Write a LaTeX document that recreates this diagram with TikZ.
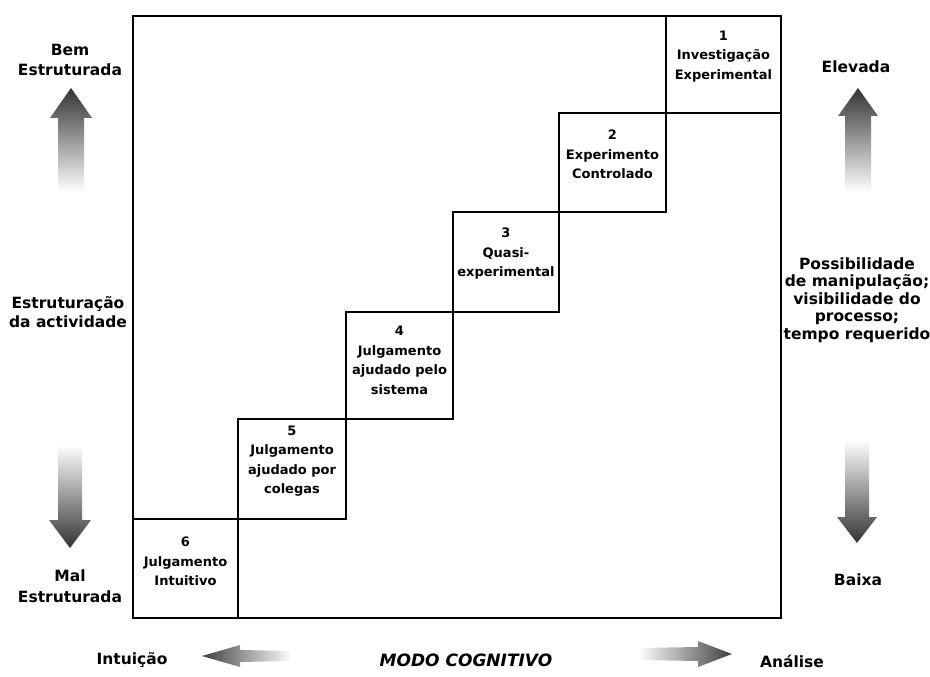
\documentclass[tikz,border=0pt]{standalone}
\usepackage{fontspec}
\setmainfont{DejaVu Sans}
\begin{document}
\begin{tikzpicture}[x=1pt,y=-1pt,
  frame/.style={draw=black, line width=1.5pt},
  stepbox/.style={draw=black, line width=1.2pt, inner sep=0pt},
  steptext/.style={align=center, inner sep=0pt, font=\fontsize{13}{19.5}\selectfont\bfseries},
  sidetext/.style={align=center, inner sep=0pt, font=\fontsize{15.5}{19.5}\selectfont\bfseries},
  uparrow/.style={top color=black!80, middle color=black!45, bottom color=white},
  downarrow/.style={bottom color=black!80, middle color=black!45, top color=white},
  leftarrow/.style={left color=black!75, right color=white},
  rightarrow/.style={right color=black!75, left color=white},
]
\useasboundingbox (0,0) rectangle (930,677);

% outer frame
\draw[frame] (133,16) rectangle (781,618);

% staircase of steps
\node[stepbox, minimum width=115pt, minimum height=97pt]  (s1) at (723.5,64.5) {};
\node[stepbox, minimum width=107pt, minimum height=99pt]  (s2) at (612.5,162.5) {};
\node[stepbox, minimum width=106pt, minimum height=100pt] (s3) at (506,262) {};
\node[stepbox, minimum width=107pt, minimum height=107pt] (s4) at (399.5,365.5) {};
\node[stepbox, minimum width=108pt, minimum height=100pt] (s5) at (292,469) {};
\node[stepbox, minimum width=105pt, minimum height=99pt]  (s6) at (185.5,568.5) {};

\node[steptext] (t1) at ([yshift=8pt]s1.center) {1\\Investigação\\Experimental};
\node[steptext] (t2) at ([yshift=8pt]s2.center) {2\\Experimento\\Controlado};
\node[steptext] (t3) at ([yshift=8pt]s3.center) {3\\Quasi-\\experimental};
\node[steptext] (t4) at ([yshift=5pt]s4.center) {4\\Julgamento\\ajudado pelo\\sistema};
\node[steptext] (t5) at ([yshift=8pt]s5.center) {5\\Julgamento\\ajudado por\\colegas};
\node[steptext] (t6) at ([yshift=7pt]s6.center) {6\\Julgamento\\Intuitivo};

% left side: structuring of the activity
\node[sidetext] (bem) at (70,60) {Bem\\Estruturada};
\node[sidetext] (estr) at (68,312) {Estruturação\\da actividade};
\node[sidetext] (mal) at (70,586) {Mal\\[2pt]Estruturada};
\shade[uparrow] (71,88) -- (92,118) -- (84,118) -- (84,192) -- (58,192) -- (58,118) -- (50,118) -- cycle;
\shade[downarrow] (70,548) -- (91,520) -- (82,520) -- (82,445) -- (58,445) -- (58,520) -- (49,520) -- cycle;

% right side: manipulation, visibility, time
\node[sidetext] (elev) at (856,67) {Elevada};
\node[sidetext, font=\fontsize{15.5}{17.5}\selectfont\bfseries] (poss) at (857,300) {Possibilidade\\de manipulação;\\visibilidade do\\processo;\\tempo requerido};
\node[sidetext] (baixa) at (858,580) {Baixa};
\shade[uparrow] (858,88) -- (878,116) -- (871,116) -- (871,192) -- (845,192) -- (845,116) -- (838,116) -- cycle;
\shade[downarrow] (857,543) -- (877,517) -- (869,517) -- (869,440) -- (845,440) -- (845,517) -- (837,517) -- cycle;

% bottom: cognitive mode
\node[sidetext] (intu) at (132,660) {Intuição};
\node[sidetext, font=\fontsize{17}{19.5}\selectfont\itshape\bfseries] (modo) at (466,660) {MODO COGNITIVO};
\node[sidetext] (anal) at (792,661) {Análise};
\shade[leftarrow] (202,656) -- (240,645) -- (240,650) -- (292,651) -- (292,661) -- (240,662) -- (240,667) -- cycle;
\shade[rightarrow] (732,654) -- (698,641) -- (698,647) -- (638,648) -- (638,660) -- (698,661) -- (698,667) -- cycle;
\end{tikzpicture}
\end{document}
